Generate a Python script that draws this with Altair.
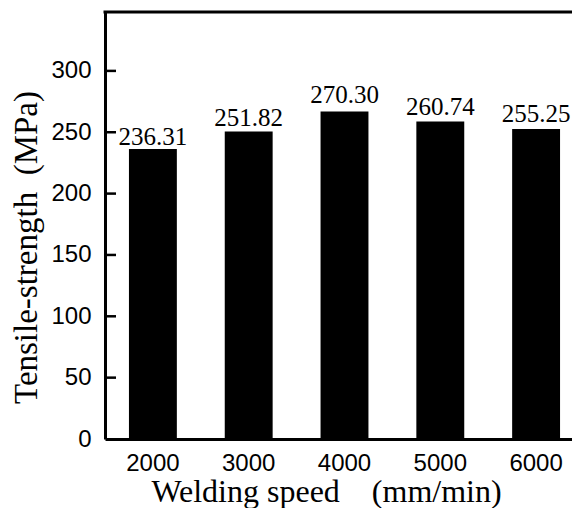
import altair as alt
import pandas as pd

speeds = ["2000", "3000", "4000", "5000", "6000"]
bar_heights = [236.3, 250.7, 267.0, 258.8, 252.6]
label_values = [236.31, 251.82, 270.30, 260.74, 255.25]
label_texts = ["236.31", "251.82", "270.30", "260.74", "255.25"]
y_tick_values = [0, 50, 100, 150, 200, 250, 300]
inner_ticks = [50, 100, 150, 200, 250, 300]

W = 467
H = 427
SERIF = "Liberation Serif"
SANS = "Liberation Sans"

df = pd.DataFrame({"speed": speeds, "height": bar_heights,
                   "labval": label_values, "lab": label_texts})
ticks_df = pd.DataFrame({"height": inner_ticks})

x_axis = alt.Axis(
    title="Welding speed\u00a0\u00a0\u00a0\u00a0(mm/min)",
    labelAngle=0, labelFont=SANS, labelFontSize=24, labelColor="black",
    labelPadding=12, ticks=False, tickSize=0,
    domainColor="black", domainWidth=3, grid=False,
    titleFont=SERIF, titleFontSize=32, titleFontWeight="normal", titleColor="black",
    titleBaseline="alphabetic", titleAlign="center", titleX=221, titleY=62,
)
y_axis = alt.Axis(
    title="Tensile-strength\u00a0\u00a0(MPa)",
    values=y_tick_values, labelFont=SANS, labelFontSize=24, labelColor="black",
    labelPadding=14, ticks=False, tickSize=0,
    domainColor="black", domainWidth=3, grid=False,
    titleFont=SERIF, titleFontSize=33, titleFontWeight="normal", titleColor="black",
    titleBaseline="alphabetic", titleAlign="center", titleAngle=270,
    titleX=-69, titleY=235,
)
x_scale = alt.Scale(range=[0, 479], paddingInner=0.5, paddingOuter=0.25)
y_scale = alt.Scale(domain=[0, 348], nice=False, zero=True)

X = alt.X("speed:N", sort=speeds, scale=x_scale, axis=x_axis)

bars = alt.Chart(df).mark_bar(color="black").encode(
    x=X,
    y=alt.Y("height:Q", scale=y_scale, axis=y_axis),
)

labels = alt.Chart(df).mark_text(
    font=SERIF, fontSize=25, color="black", baseline="alphabetic", dy=-4
).encode(
    x=X,
    y=alt.Y("labval:Q", scale=y_scale, axis=y_axis),
    text="lab:N",
)

ticks = alt.Chart(ticks_df).mark_rule(color="black", strokeWidth=2.5).encode(
    y=alt.Y("height:Q", scale=y_scale, axis=y_axis),
    x=alt.value(0),
    x2=alt.value(11),
)

top_line = alt.Chart(alt.Data(values=[{"a": 1}])).mark_rule(
    color="black", strokeWidth=3
).encode(
    x=alt.value(-1.5), x2=alt.value(W), y=alt.value(0),
)

chart = alt.layer(bars, labels, ticks, top_line).properties(
    width=W, height=H,
    autosize=alt.AutoSizeParams(type="none"),
    padding={"left": 97, "top": 4, "right": 0, "bottom": 69},
    background="white",
).configure_view(stroke=None)

chart.save("out.html", embed_options={"renderer": "svg", "actions": False})
